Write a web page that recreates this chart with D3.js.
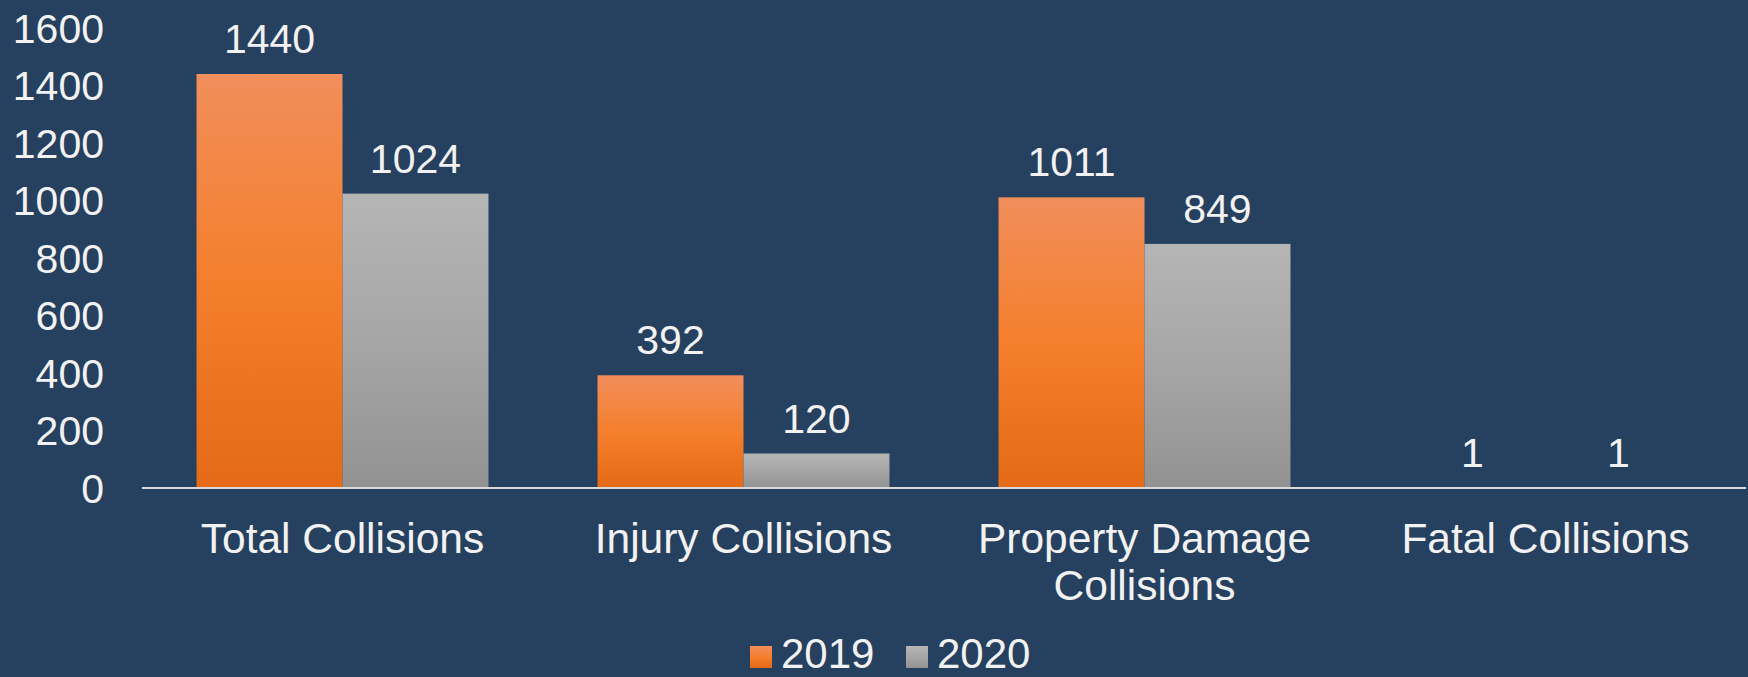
<!DOCTYPE html>
<html>
<head>
<meta charset="utf-8">
<script src="https://cdn.jsdelivr.net/npm/d3@7"></script>
<style>
  html, body { margin: 0; padding: 0; background: #26405f; }
  svg { display: block; font-family: "Liberation Sans", Arial, sans-serif; }
</style>
</head>
<body>
<div id="chart"></div>
<script>
const categories = ["Total Collisions", "Injury Collisions", "Property Damage Collisions", "Fatal Collisions"];
const categoryLines = [["Total Collisions"], ["Injury Collisions"], ["Property Damage", "Collisions"], ["Fatal Collisions"]];
const seriesNames = ["2019", "2020"];
const values2019 = [1440, 392, 1011, 1];
const values2020 = [1024, 120, 849, 1];
const yTicks = [0, 200, 400, 600, 800, 1000, 1200, 1400, 1600];

const W = 1748, H = 677;
const margin = {top: 28, right: 2, bottom: 189, left: 142},
      width = W - margin.left - margin.right,
      height = H - margin.top - margin.bottom;
const textColor = "#f2f2f2";

var svg = d3.select("#chart")
  .append("svg")
  .attr("width", W)
  .attr("height", H);

// gradients like the office-style bar fill
var defs = svg.append("defs");
var gradStops = {
  "2019": [["0%", "#f18e5b"], ["50%", "#f47f2c"], ["100%", "#e46a17"]],
  "2020": [["0%", "#b5b5b5"], ["50%", "#a6a6a6"], ["100%", "#929292"]]
};
seriesNames.forEach(function(s) {
  var g = defs.append("linearGradient")
    .attr("id", "grad" + s)
    .attr("x1", 0).attr("y1", 0).attr("x2", 0).attr("y2", 1);
  gradStops[s].forEach(function(st) {
    g.append("stop").attr("offset", st[0]).attr("stop-color", st[1]);
  });
});

var g = svg.append("g")
  .attr("transform", "translate(" + margin.left + "," + margin.top + ")");

var x0 = d3.scaleBand()
  .domain(categories)
  .range([0, width])
  .paddingInner(0.272)
  .paddingOuter(0.136);
var x1 = d3.scaleBand()
  .domain(seriesNames)
  .range([0, x0.bandwidth()]);
var y = d3.scaleLinear()
  .domain([0, 1600])
  .range([height, 0]);

// y axis labels
var yAxis = d3.axisLeft(y).tickValues(yTicks).tickFormat(d3.format("d")).tickSize(0).tickPadding(38);
g.append("g")
  .attr("class", "axis-y")
  .call(yAxis)
  .call(function(a) { a.select(".domain").remove(); })
  .selectAll("text")
  .attr("fill", textColor)
  .style("font-size", "41px")
  .attr("dy", "0.35em");

var data = categories.map(function(c, i) {
  return {cat: c, vals: [{s: "2019", v: values2019[i]}, {s: "2020", v: values2020[i]}]};
});

var groups = g.selectAll(".grp")
  .data(data)
  .enter()
  .append("g")
  .attr("class", "grp")
  .attr("transform", function(d) { return "translate(" + x0(d.cat) + ",0)"; });

groups.selectAll("rect")
  .data(function(d) { return d.vals; })
  .enter()
  .append("rect")
  .attr("x", function(d) { return x1(d.s); })
  .attr("y", function(d) { return y(d.v); })
  .attr("width", x1.bandwidth())
  .attr("height", function(d) { return height - y(d.v); })
  .attr("fill", function(d) { return "url(#grad" + d.s + ")"; });

groups.selectAll(".lbl")
  .data(function(d) { return d.vals; })
  .enter()
  .append("text")
  .attr("class", "lbl")
  .attr("x", function(d) { return x1(d.s) + x1.bandwidth() / 2; })
  .attr("y", function(d) { return y(d.v) - 21; })
  .attr("text-anchor", "middle")
  .attr("fill", textColor)
  .style("font-size", "41px")
  .text(function(d) { return d.v; });

// baseline
g.append("line")
  .attr("x1", 0).attr("x2", width)
  .attr("y1", y(0)).attr("y2", y(0))
  .attr("stroke", "#d9d9d9")
  .attr("stroke-width", 2);

// category labels
categories.forEach(function(c, i) {
  var t = g.append("text")
    .attr("x", x0(c) + x0.bandwidth() / 2)
    .attr("y", height + 65)
    .attr("text-anchor", "middle")
    .attr("fill", textColor)
    .style("font-size", "42.5px");
  categoryLines[i].forEach(function(line, j) {
    t.append("tspan")
      .attr("x", x0(c) + x0.bandwidth() / 2)
      .attr("dy", j === 0 ? 0 : 47)
      .text(line);
  });
});

// legend
var legend = svg.append("g").attr("transform", "translate(750,646)");
var legX = [0, 156];
seriesNames.forEach(function(s, i) {
  legend.append("rect")
    .attr("x", legX[i]).attr("y", 0)
    .attr("width", 22).attr("height", 22)
    .attr("fill", "url(#grad" + s + ")");
  legend.append("text")
    .attr("x", legX[i] + 31)
    .attr("y", 22)
    .attr("fill", textColor)
    .style("font-size", "42px")
    .text(s);
});
</script>
</body>
</html>
